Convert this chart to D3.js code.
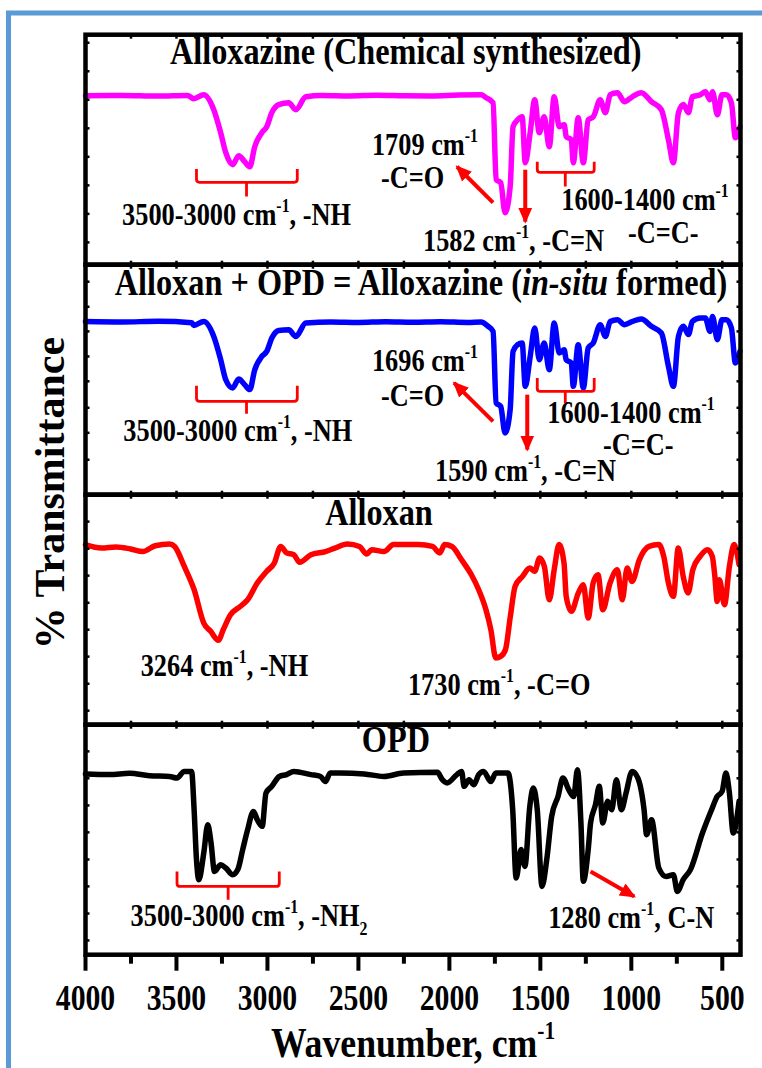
<!DOCTYPE html>
<html><head><meta charset="utf-8">
<script src="https://cdn.jsdelivr.net/npm/d3@7"></script>
<style>body{margin:0;background:#fff}svg{display:block}</style>
</head><body><svg id="c" width="762" height="1068"></svg>
<script>
// ---------- DATA ----------
const xTicksMajor = [4000,3500,3000,2500,2000,1500,1000,500];
const xTicksMinor = [3750,3250,2750,2250,1750,1250,750];
const xTitle = "Wavenumber, cm";
const yTitle = "% Transmittance";
const seriesColors = ["#ff00ff","#0000ff","#ff0000","#000000"];

const alloxazineChem = [[4000,73.5],[3800,73.6],[3600,73.3],[3440,73.6],[3405,72.2],[3350,73.9],[3295,67.4],[3257,57.4],[3229,48.7],[3191,43.5],[3158,47.4],[3125,44.8],[3097,42.6],[3070,51.3],[3031,57.4],[3004,60.0],[2976,66.1],[2938,69.6],[2883,70.4],[2844,67.4],[2789,73.0],[2700,73.6],[2550,73.4],[2400,73.7],[2250,73.5],[2100,73.4],[1950,73.8],[1826,73.9],[1798,72.6],[1760,70.4],[1743,37.0],[1718,35.7],[1694,22.6],[1666,33.9],[1650,60.0],[1625,63.0],[1600,64.3],[1583,44.3],[1556,57.4],[1531,71.7],[1506,57.4],[1479,64.3],[1451,51.3],[1424,73.0],[1396,60.0],[1369,60.9],[1358,55.7],[1330,54.3],[1319,44.3],[1292,63.9],[1264,44.3],[1237,63.0],[1209,64.3],[1171,71.7],[1143,66.1],[1116,73.9],[1077,74.8],[1038,70.9],[995,73.0],[945,74.8],[890,70.9],[835,67.4],[796,54.3],[769,44.3],[741,66.1],[714,69.6],[686,66.1],[665,73.0],[621,73.9],[593,75.2],[568,71.7],[554,75.2],[527,65.2],[502,73.9],[477,73.9],[450,70.4],[428,55.2],[403,60.0]];

const alloxazineInsitu = [[4000,75.3],[3800,75.1],[3600,75.4],[3416,74.8],[3405,73.6],[3350,75.3],[3295,68.8],[3257,58.7],[3229,50.0],[3191,46.4],[3158,50.3],[3125,47.8],[3097,45.7],[3070,54.3],[3031,60.1],[3004,62.3],[2976,68.1],[2938,71.4],[2883,71.7],[2844,68.8],[2789,74.7],[2650,75.1],[2500,74.9],[2350,75.2],[2200,75.0],[2050,75.2],[1900,74.9],[1826,75.1],[1787,73.2],[1760,71.0],[1743,39.9],[1718,38.4],[1694,26.8],[1666,37.0],[1650,62.3],[1625,65.2],[1600,66.0],[1583,47.1],[1556,60.1],[1531,72.5],[1506,58.7],[1479,66.0],[1451,54.3],[1424,74.7],[1396,61.6],[1369,63.0],[1358,58.7],[1330,57.3],[1319,47.1],[1292,65.2],[1264,46.4],[1237,63.8],[1209,66.0],[1171,73.9],[1143,68.8],[1116,75.3],[1077,76.1],[1038,73.9],[995,75.3],[945,76.4],[890,73.2],[835,70.3],[796,55.8],[769,47.1],[741,68.8],[714,73.2],[686,69.6],[665,75.3],[621,76.8],[593,76.8],[568,71.0],[554,77.5],[527,67.4],[502,76.1],[477,76.1],[450,72.5],[428,57.3],[403,62.3]];

const alloxan = [[4000,78.3],[3912,76.8],[3832,77.3],[3752,76.4],[3685,75.3],[3617,77.8],[3538,78.6],[3510,77.5],[3457,68.8],[3403,58.7],[3350,44.2],[3312,40.6],[3270,36.7],[3243,41.3],[3203,47.8],[3150,51.4],[3109,54.3],[3056,61.6],[3004,66.7],[2962,70.3],[2927,77.5],[2895,74.7],[2855,73.9],[2823,70.6],[2761,73.9],[2681,75.3],[2629,76.8],[2561,78.6],[2494,77.5],[2454,74.2],[2427,76.1],[2360,75.3],[2307,78.3],[2173,78.3],[2093,77.5],[2053,74.7],[2026,78.3],[1986,77.5],[1933,71.7],[1879,65.2],[1839,58.7],[1799,50.0],[1772,41.3],[1745,29.0],[1718,29.7],[1692,32.6],[1665,47.1],[1639,60.1],[1598,64.5],[1558,68.1],[1531,66.7],[1504,72.5],[1478,68.8],[1451,54.3],[1424,67.4],[1397,78.3],[1370,70.3],[1358,55.8],[1330,49.3],[1291,57.3],[1264,60.9],[1237,46.4],[1210,61.6],[1183,65.2],[1157,50.0],[1117,61.6],[1077,67.4],[1050,54.3],[1023,68.1],[996,62.3],[956,71.7],[903,77.5],[849,78.3],[822,73.2],[796,61.6],[769,55.8],[742,76.8],[715,64.5],[688,57.3],[662,67.4],[622,73.2],[582,76.1],[555,73.2],[541,64.5],[528,53.6],[516,63.0],[488,52.2],[461,68.8],[435,78.3],[408,69.6]];

const opd = [[4000,78.6],[3868,78.3],[3758,78.9],[3648,77.8],[3538,77.5],[3497,76.8],[3457,79.7],[3417,79.7],[3403,63.0],[3390,41.3],[3377,32.6],[3350,44.2],[3328,56.5],[3310,48.6],[3291,36.2],[3257,39.1],[3229,37.7],[3191,34.8],[3163,37.0],[3136,45.7],[3109,54.3],[3077,62.3],[3056,58.7],[3029,55.8],[3008,70.3],[2976,73.2],[2935,77.5],[2895,78.3],[2855,79.7],[2761,78.3],[2708,77.5],[2681,75.3],[2655,79.0],[2602,79.0],[2468,78.6],[2360,77.5],[2253,79.0],[2066,79.3],[2039,76.1],[2013,74.7],[1959,78.3],[1933,79.7],[1919,73.2],[1892,76.1],[1865,73.9],[1839,78.3],[1812,79.7],[1772,75.3],[1745,79.0],[1678,79.0],[1652,63.0],[1633,33.3],[1606,45.7],[1585,38.4],[1558,64.5],[1539,72.5],[1517,63.0],[1491,29.7],[1465,41.3],[1438,60.1],[1403,68.8],[1376,76.8],[1344,71.7],[1317,68.8],[1296,80.4],[1277,57.3],[1264,31.9],[1237,45.7],[1224,57.3],[1197,65.2],[1176,73.2],[1157,57.3],[1130,66.7],[1108,63.0],[1082,76.1],[1055,63.0],[1029,70.3],[996,79.7],[964,76.8],[930,63.0],[916,52.2],[889,58.7],[849,37.7],[809,34.0],[769,34.8],[747,27.5],[715,32.6],[675,37.0],[609,52.9],[555,63.8],[528,68.8],[501,71.0],[480,79.0],[461,70.3],[440,52.9],[408,66.7]];

const panelYTicks = [
  [96.5,84.1,71.7,59.3,46.9,34.5,22.1,9.7],
  [92.6,81.7,71.0,60.1,49.3,37.8,26.9,15.2],
  [88.3,76.5,64.8,53.0,41.3,29.6,17.8,6.1],
  [88.4,76.7,64.9,53.2,41.4,29.7,17.9,6.2]
];

const panelTitles = [
  [["Alloxazine (Chemical synthesized)"]],
  [["Alloxan + OPD = Alloxazine ("],["in-situ","it"],[" formed)"]],
  [["Alloxan"]],
  [["OPD"]]
];
const titlePos = [[2240,87.4],[2156,87.0],[2387,87.0],[2294,88.0]];

// annotations: [panel, wn, value, anchor, parts]
const labels = [
  [0,3170,17.4,"middle",[["3500-3000 cm"],["-1","sup"],[", -NH"]]],
  [0,2426,47.8,"start",[["1709 cm"],["-1","sup"]]],
  [0,2376,33.5,"start",[["-C=O"]]],
  [0,1385,23.9,"start",[["1600-1400 cm"],["-1","sup"]]],
  [0,824,9.6,"middle",[["-C=C-"]]],
  [0,2145,5.8,"start",[["1582 cm"],["-1","sup"],[", -C=N"]]],
  [1,3163,23.2,"middle",[["3500-3000 cm"],["-1","sup"],[", -NH"]]],
  [1,2426,53.6,"start",[["1696 cm"],["-1","sup"]]],
  [1,2376,38.4,"start",[["-C=O"]]],
  [1,1462,31.2,"start",[["1600-1400 cm"],["-1","sup"]]],
  [1,962,17.4,"middle",[["-C=C-"]]],
  [1,2079,5.8,"start",[["1590 cm"],["-1","sup"],[", -C=N"]]],
  [2,3697,21.0,"start",[["3264 cm"],["-1","sup"],[", -NH"]]],
  [2,2228,13.0,"start",[["1730 cm"],["-1","sup"],[", -C=O"]]],
  [3,3752,12.3,"start",[["3500-3000 cm"],["-1","sup"],[", -NH"],["2","sub"]]],
  [3,1457,11.6,"start",[["1280 cm"],["-1","sup"],[", C-N"]]]
];
// brackets: [panel, wnLeft, wnRight, wnStem, top, bar, tip]
const brackets = [
  [0,3390,2836,3115,41.6,35.8,29.7],
  [0,1517,1204,1363,44.8,40.1,34.0],
  [1,3390,2836,3115,47.4,40.6,35.2],
  [1,1517,1204,1363,50.7,44.9,39.9],
  [3,3497,2935,3216,36.2,29.7,23.9]
];
// arrows: [panel, wn1, v1, wn2, v2]
const arrows = [
  [0,1760,27.0,1958,42.6],
  [0,1583,41.3,1583,18.7],
  [1,1760,31.9,1974,48.6],
  [1,1572,43.5,1572,19.6],
  [3,1224,36.2,984,25.3]
];

// ---------- LAYOUT ----------
const svg = d3.select("#c");
const SX = 0.85;
const FONT = "'Liberation Serif','Times New Roman',serif";
const left = 85.5, right = 740.5, top0 = 34.7, ph = 230;
const x = d3.scaleLinear().domain([4000,400]).range([left,right]);
const yScales = [0,1,2,3].map(i => d3.scaleLinear().domain([0,100]).range([top0+(i+1)*ph, top0+i*ph]));

svg.append("path").attr("d",`M8.5,1068 L8.5,13 L762,13`).attr("fill","none")
  .attr("stroke","#5b9bd5").attr("stroke-width",5);

function addText(parent, px, py, parts, size, anchor, sx, extra){
  const t = parent.append("text")
    .attr("transform", `translate(${px},${py}) scale(${sx},1)` + (extra||""))
    .attr("font-family", FONT).attr("font-weight","bold")
    .attr("font-size", size).attr("text-anchor", anchor).attr("fill","#000");
  let shift = 0;
  parts.forEach(p => {
    const s = t.append("tspan").text(p[0]);
    let target = 0;
    if (p[1]==="sup"){ s.attr("font-size", size*0.6); target = -0.42*size; }
    else if (p[1]==="sub"){ s.attr("font-size", size*0.6); target = 0.28*size; }
    else if (p[1]==="it"){ s.attr("font-style","italic"); }
    if (target !== shift){ s.attr("dy", target - shift); shift = target; }
  });
  return t;
}

const defs = svg.append("defs");
defs.append("marker").attr("id","ah").attr("markerUnits","userSpaceOnUse")
  .attr("markerWidth",18).attr("markerHeight",16).attr("refX",14).attr("refY",8)
  .attr("orient","auto")
  .append("path").attr("d","M0,1 L16,8 L0,15 Z").attr("fill","#ff0000");

const series = [alloxazineChem, alloxazineInsitu, alloxan, opd];

series.forEach((data,i) => {
  const y = yScales[i];
  const g = svg.append("g");
  const line = d3.line().x(d=>x(d[0])).y(d=>y(d[1])).curve(d3.curveMonotoneX);
  g.append("path").datum(data).attr("d",line).attr("fill","none")
    .attr("stroke",seriesColors[i]).attr("stroke-width",5.5)
    .attr("stroke-linejoin","round").attr("stroke-linecap","round");
  const allX = xTicksMajor.concat(xTicksMinor);
  allX.forEach(v => {
    g.append("line").attr("x1",x(v)).attr("x2",x(v)).attr("y1",y(100)).attr("y2",y(100)+4)
      .attr("stroke","#000").attr("stroke-width",2.5);
    if (i<3) g.append("line").attr("x1",x(v)).attr("x2",x(v)).attr("y1",y(0)).attr("y2",y(0)-4)
      .attr("stroke","#000").attr("stroke-width",2.5);
  });
  panelYTicks[i].forEach(v => {
    g.append("line").attr("x1",left).attr("x2",left+4).attr("y1",y(v)).attr("y2",y(v))
      .attr("stroke","#000").attr("stroke-width",2.5);
    g.append("line").attr("x1",right).attr("x2",right-4).attr("y1",y(v)).attr("y2",y(v))
      .attr("stroke","#000").attr("stroke-width",2.5);
  });
  g.append("rect").attr("x",left).attr("y",y(100)).attr("width",right-left).attr("height",ph)
    .attr("fill","none").attr("stroke","#000").attr("stroke-width",4.5);
  addText(g, x(titlePos[i][0]), y(titlePos[i][1]), panelTitles[i], 38, "middle", SX);
});

brackets.forEach(b => {
  const y = yScales[b[0]];
  const xl=x(b[1]), xr=x(b[2]), xs=x(b[3]), yt=y(b[4]), yb=y(b[5]), ytip=y(b[6]);
  svg.append("path")
    .attr("d",`M${xl},${yt} L${xl},${yb-3} Q${xl},${yb} ${xl+3},${yb} L${xr-3},${yb} Q${xr},${yb} ${xr},${yb-3} L${xr},${yt} M${xs},${yb} L${xs},${ytip}`)
    .attr("fill","none").attr("stroke","#ff0000").attr("stroke-width",2.8);
});
arrows.forEach(a => {
  const y = yScales[a[0]];
  svg.append("line").attr("x1",x(a[1])).attr("y1",y(a[2])).attr("x2",x(a[3])).attr("y2",y(a[4]))
    .attr("stroke","#ff0000").attr("stroke-width",4).attr("marker-end","url(#ah)");
});
labels.forEach(l => {
  const y = yScales[l[0]];
  addText(svg, x(l[1]), y(l[2]), l[4], 31, l[3], SX);
});

const bottom = top0 + 4*ph;
xTicksMajor.forEach(v => {
  svg.append("line").attr("x1",x(v)).attr("x2",x(v)).attr("y1",bottom).attr("y2",bottom+16)
    .attr("stroke","#000").attr("stroke-width",4);
  addText(svg, x(v), 1010, [[String(v)]], 35, "middle", SX);
});
xTicksMinor.forEach(v => {
  svg.append("line").attr("x1",x(v)).attr("x2",x(v)).attr("y1",bottom).attr("y2",bottom+9)
    .attr("stroke","#000").attr("stroke-width",4);
});

addText(svg, (left+right)/2, 1057, [[xTitle],["-1","sup"]], 42, "middle", SX);
addText(svg, 64, 493, [[yTitle]], 42, "middle", 1, " rotate(-90)");
</script></body></html>
